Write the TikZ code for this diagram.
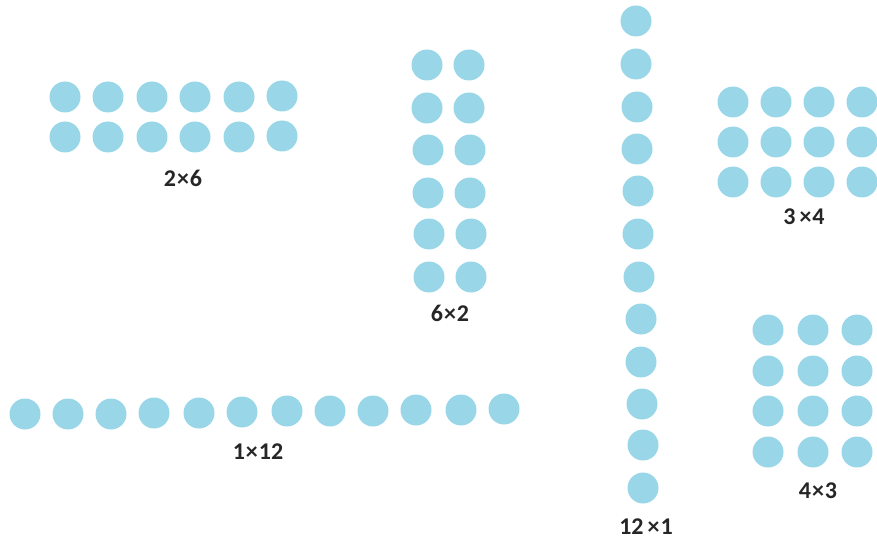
\documentclass[tikz,border=0pt]{standalone}
\usepackage{fontspec}
\setmainfont{Carlito}
\usepackage{tikz}
\definecolor{dotblue}{RGB}{152,214,232}
\tikzstyle{dot}=[circle, fill=dotblue, inner sep=0pt, minimum size=31pt]
\tikzstyle{caption}=[font=\fontsize{24}{27}\selectfont\bfseries, text=black!85]

\begin{document}
\begin{tikzpicture}[x=1pt, y=-1pt]
  \useasboundingbox (0,0) rectangle (877,540);

  % 2 x 6 array
  \node (a1) at (65, 97) [dot]{};
  \node (a2) at (108, 97) [dot]{};
  \node (a3) at (152, 97) [dot]{};
  \node (a4) at (195, 97) [dot]{};
  \node (a5) at (239, 97) [dot]{};
  \node (a6) at (282, 96) [dot]{};
  \node (a7) at (65, 137) [dot]{};
  \node (a8) at (108, 137) [dot]{};
  \node (a9) at (152, 137) [dot]{};
  \node (a10) at (195, 137) [dot]{};
  \node (a11) at (239, 137) [dot]{};
  \node (a12) at (282, 136) [dot]{};
  \node (a) at (183, 178) [caption]{2\kern1pt×\kern1pt6};

  % 6 x 2 array
  \node (b1) at (427, 65) [dot]{};
  \node (b2) at (469, 65) [dot]{};
  \node (b3) at (427, 108) [dot]{};
  \node (b4) at (469, 108) [dot]{};
  \node (b5) at (428, 150) [dot]{};
  \node (b6) at (470, 150) [dot]{};
  \node (b7) at (428, 193) [dot]{};
  \node (b8) at (470, 193) [dot]{};
  \node (b9) at (429, 234) [dot]{};
  \node (b10) at (471, 234) [dot]{};
  \node (b11) at (429, 277) [dot]{};
  \node (b12) at (471, 277) [dot]{};
  \node (b) at (450, 313) [caption]{6\kern1pt×\kern1pt2};

  % 12 x 1 array
  \node (c1) at (636, 21) [dot]{};
  \node (c2) at (636, 64) [dot]{};
  \node (c3) at (637, 107) [dot]{};
  \node (c4) at (637, 149) [dot]{};
  \node (c5) at (638, 191) [dot]{};
  \node (c6) at (638, 234) [dot]{};
  \node (c7) at (639, 277) [dot]{};
  \node (c8) at (641, 319) [dot]{};
  \node (c9) at (641, 362) [dot]{};
  \node (c10) at (642, 404) [dot]{};
  \node (c11) at (643, 445) [dot]{};
  \node (c12) at (643, 488) [dot]{};
  \node (c) at (646, 527) [caption]{12\kern4pt×\kern1pt1};

  % 3 x 4 array
  \node (d1) at (733, 102) [dot]{};
  \node (d2) at (776, 102) [dot]{};
  \node (d3) at (819, 102) [dot]{};
  \node (d4) at (862, 102) [dot]{};
  \node (d5) at (733, 142) [dot]{};
  \node (d6) at (776, 142) [dot]{};
  \node (d7) at (819, 142) [dot]{};
  \node (d8) at (862, 142) [dot]{};
  \node (d9) at (733, 182) [dot]{};
  \node (d10) at (776, 182) [dot]{};
  \node (d11) at (819, 182) [dot]{};
  \node (d12) at (862, 182) [dot]{};
  \node (d) at (804, 217) [caption]{3\kern4pt×\kern1pt4};

  % 4 x 3 array
  \node (e1) at (768, 330) [dot]{};
  \node (e2) at (813, 330) [dot]{};
  \node (e3) at (857, 330) [dot]{};
  \node (e4) at (768, 371) [dot]{};
  \node (e5) at (813, 371) [dot]{};
  \node (e6) at (857, 371) [dot]{};
  \node (e7) at (768, 411) [dot]{};
  \node (e8) at (813, 411) [dot]{};
  \node (e9) at (857, 411) [dot]{};
  \node (e10) at (768, 452) [dot]{};
  \node (e11) at (813, 452) [dot]{};
  \node (e12) at (857, 452) [dot]{};
  \node (e) at (818, 491) [caption]{4\kern1pt×\kern1pt3};

  % 1 x 12 array
  \node (f1) at (25, 414) [dot]{};
  \node (f2) at (68, 414) [dot]{};
  \node (f3) at (111, 414) [dot]{};
  \node (f4) at (154, 413) [dot]{};
  \node (f5) at (199, 413) [dot]{};
  \node (f6) at (242, 412) [dot]{};
  \node (f7) at (287, 411) [dot]{};
  \node (f8) at (330, 411) [dot]{};
  \node (f9) at (373, 411) [dot]{};
  \node (f10) at (416, 410) [dot]{};
  \node (f11) at (461, 410) [dot]{};
  \node (f12) at (504, 409) [dot]{};
  \node (f) at (258, 452) [caption]{1\kern1pt×\kern1pt12};
\end{tikzpicture}
\end{document}
